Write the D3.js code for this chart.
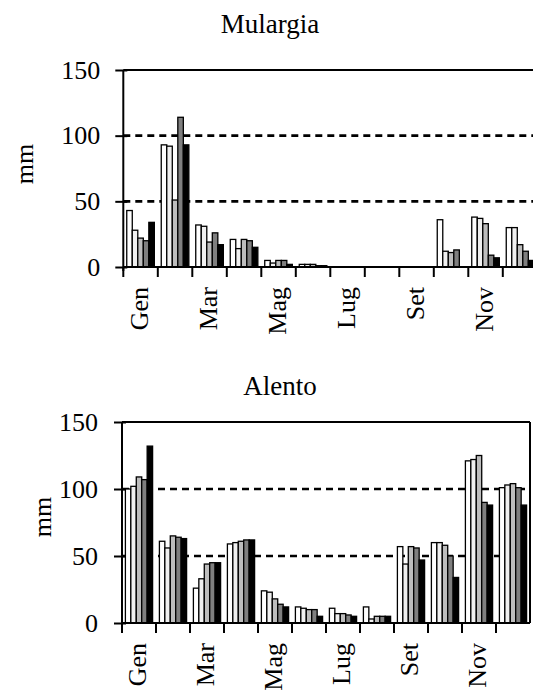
<!DOCTYPE html>
<html><head><meta charset="utf-8">
<script src="https://cdn.jsdelivr.net/npm/d3@7"></script>
<style>
html,body{margin:0;padding:0;background:#fff;}
svg{display:block;}
</style></head>
<body>
<svg id="chart" width="533" height="691"></svg>
<script>
// ---- data ----
const months = ["Gen","Feb","Mar","Apr","Mag","Giu","Lug","Ago","Set","Ott","Nov","Dic"];
const shownLabels = ["Gen","Mar","Mag","Lug","Set","Nov"];
const series = ["S1","S2","S3","S4","S5"];
const yTicks = [0, 50, 100, 150];
const gridValues = [50, 100];

const mulargia1 = [43, 93, 32, 21, 5, 2, 0, 0, 0, 36, 38, 30];
const mulargia2 = [28, 92, 31, 14, 3, 2, 0, 0, 0, 12, 37, 30];
const mulargia3 = [22, 51, 19, 21, 5, 2, 0, 0, 0, 11, 33, 17];
const mulargia4 = [20, 114, 26, 20, 5, 1, 0, 0, 0, 13, 9, 12];
const mulargia5 = [34, 93, 17, 15, 2, 1, 0, 0, 0, 0, 7, 5];

const alento1 = [100, 61, 26, 59, 24, 12, 11, 12, 57, 60, 121, 101];
const alento2 = [102, 56, 33, 60, 23, 11, 7, 3, 44, 60, 122, 103];
const alento3 = [109, 65, 44, 61, 18, 10, 7, 5, 57, 58, 125, 104];
const alento4 = [107, 64, 45, 62, 14, 10, 6, 5, 56, 50, 90, 101];
const alento5 = [132, 63, 45, 62, 12, 5, 5, 5, 47, 34, 88, 88];

const colors = ["#ffffff", "#f0f0f0", "#bdbdbd", "#7f7f7f", "#000000"];
const FONT = '"Liberation Serif", Tinos, "Times New Roman", "DejaVu Serif", serif';

const panels = [
  {title:"Mulargia", data:[mulargia1,mulargia2,mulargia3,mulargia4,mulargia5],
   left:123.3, right:537.3, y0:267, yTop:70, titleX:270, titleY:33, mmX:24, mmY:164, border:false, labelGap:20, tickLabelGap:23},
  {title:"Alento", data:[alento1,alento2,alento3,alento4,alento5],
   left:122, right:530, y0:623, yTop:422, titleX:280, titleY:395, mmX:42, mmY:517, border:true, labelGap:20, tickLabelGap:24}
];

const svg = d3.select("#chart").attr("font-family", FONT);

panels.forEach(p => {
  const g = svg.append("g");
  const x0 = d3.scaleBand().domain(months).range([p.left, p.right]).paddingInner(0.2).paddingOuter(0.1);
  const x1 = d3.scaleBand().domain(series).range([0, x0.bandwidth()]);
  const y = d3.scaleLinear().domain([0, 150]).range([p.y0, p.yTop]);
  const half = (x0.step() - x0.bandwidth()) / 2;

  // title
  g.append("text").attr("x", p.titleX).attr("y", p.titleY).attr("text-anchor","middle")
    .attr("font-family", FONT).attr("font-size", 27).text(p.title);

  // y label
  g.append("text").attr("transform", `translate(${p.mmX},${p.mmY}) rotate(-90)`)
    .attr("text-anchor","middle").attr("dy","0.35em").attr("font-family", FONT)
    .attr("font-size", 26).text("mm");

  // gridlines (dashed)
  g.selectAll(".grid").data(gridValues).enter().append("line")
    .attr("x1", p.left).attr("x2", Math.min(p.right, 533))
    .attr("y1", d => y(d)).attr("y2", d => y(d))
    .attr("stroke", "#000").attr("stroke-width", 2.6).attr("stroke-dasharray", "7,5");

  // top line at 150
  g.append("line").attr("x1", p.left).attr("x2", p.right)
    .attr("y1", y(150)).attr("y2", y(150)).attr("stroke","#000").attr("stroke-width", 2);
  if (p.border) {
    g.append("line").attr("x1", p.right).attr("x2", p.right)
      .attr("y1", y(150)).attr("y2", y(0)).attr("stroke","#000").attr("stroke-width", 2);
  }

  // bars
  const grp = g.selectAll(".month").data(months).enter().append("g")
    .attr("transform", m => `translate(${x0(m)},0)`);
  grp.selectAll("rect").data((m, i) => series.map((s, k) => ({s, k, v: p.data[k][i]})))
    .enter().append("rect")
    .attr("x", d => x1(d.s)).attr("width", x1.bandwidth())
    .attr("y", d => y(d.v)).attr("height", d => y(0) - y(d.v))
    .attr("fill", d => colors[d.k]).attr("stroke", "#000").attr("stroke-width", 1.3);

  // y axis
  const yAxis = d3.axisLeft(y).tickValues(yTicks).tickSize(8).tickPadding(p.tickLabelGap - 8);
  const ya = g.append("g").attr("transform", `translate(${p.left},0)`).call(yAxis);
  ya.attr("font-family", FONT).attr("font-size", 26);
  ya.select(".domain").attr("stroke-width", 2).attr("d", `M0,${y(0)+4}V${y(150)}`);
  ya.selectAll(".tick line").attr("x2", -8).attr("x1", 4).attr("stroke-width", 2);
  ya.selectAll(".tick text").attr("font-size", 26).attr("font-family", FONT);

  // x axis baseline + ticks at group boundaries
  g.append("line").attr("x1", p.left).attr("x2", Math.min(p.right, 533))
    .attr("y1", y(0)).attr("y2", y(0)).attr("stroke","#000").attr("stroke-width", 2);
  g.selectAll(".xt").data(months).enter().append("line")
    .attr("x1", m => x0(m) - half).attr("x2", m => x0(m) - half)
    .attr("y1", y(0)).attr("y2", y(0) + 10).attr("stroke","#000").attr("stroke-width", 2);

  // x labels
  g.selectAll(".xl").data(shownLabels).enter().append("text")
    .attr("transform", m => `translate(${x0(m) + x0.bandwidth()/2 - 2},${y(0) + p.labelGap}) rotate(-90)`)
    .attr("text-anchor","end").attr("dy","0.35em").attr("font-family", FONT)
    .attr("font-size", 26).text(m => m);
});
</script>
</body></html>
